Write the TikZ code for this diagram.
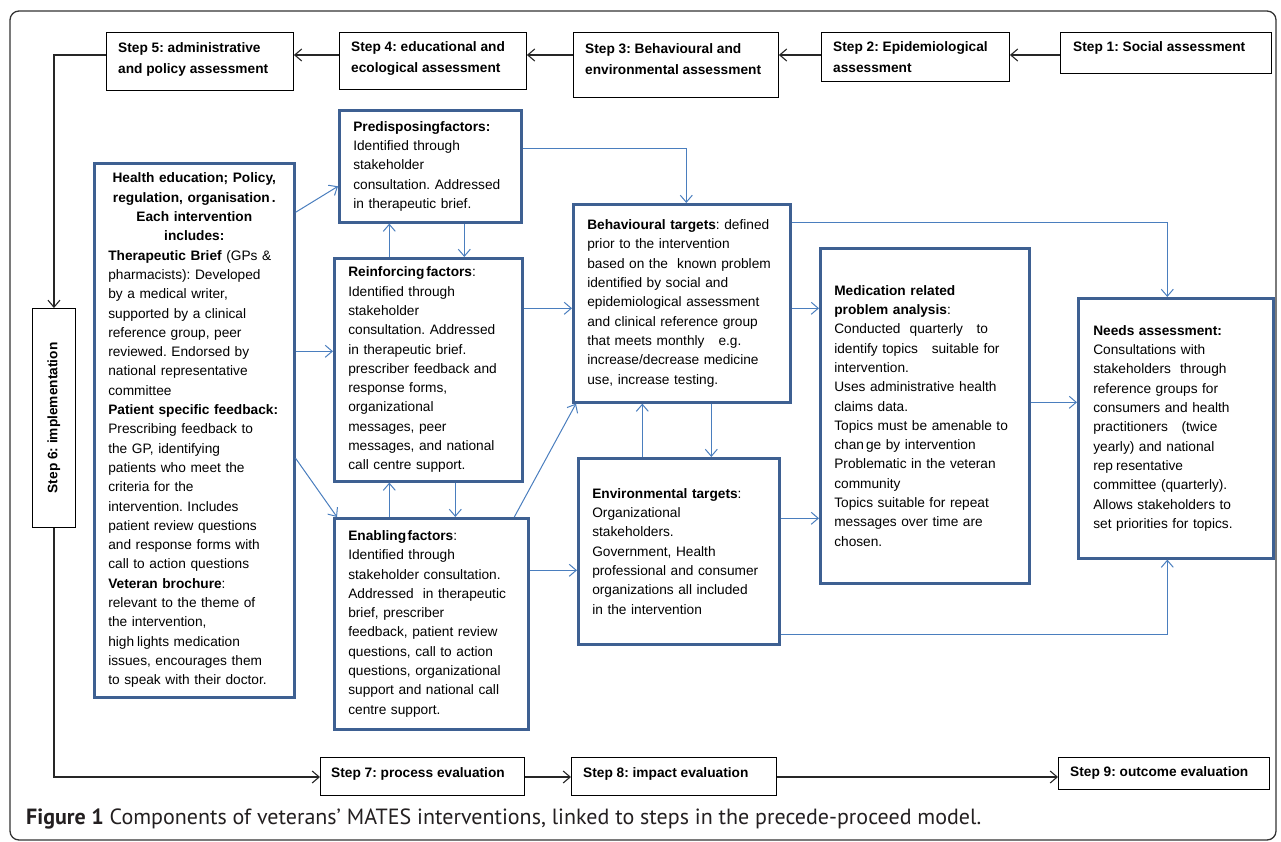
\documentclass[tikz,border=0pt]{standalone}
\usepackage{fontspec}
\setmainfont{Liberation Sans}
\newfontfamily\capfont{PT Sans}
\usetikzlibrary{arrows.meta,calc}
\setlength{\parindent}{0pt}
\definecolor{boxblue}{RGB}{62,96,146}
\definecolor{lineblue}{RGB}{74,126,190}
\definecolor{capgray}{RGB}{35,31,32}
\newcommand{\bodyfont}{\fontsize{13.7pt}{19.3pt}\selectfont}
\newcommand{\stepfont}{\fontsize{13.7pt}{21pt}\selectfont\bfseries}
\tikzset{
  stepbox/.style={draw=black, line width=0.9pt, anchor=north west, inner sep=0pt},
  steptext/.style={anchor=west, align=left, inner sep=0pt, font=\stepfont},
  bluebox/.style={draw=boxblue, line width=2.6pt, anchor=north west, inner xsep=14pt, inner ysep=0pt, font=\bodyfont},
  blk/.style={draw=black!85, line width=1.1pt, -{Straight Barb[length=7pt,width=12pt]}},
  bl/.style={draw=lineblue, line width=1pt, -{Straight Barb[length=7pt,width=12pt]}},
  frame/.style={draw=black!80, line width=1.3pt, rounded corners=9pt}
}
\begin{document}
\frenchspacing
\begin{tikzpicture}[x=1pt,y=-1pt]
\useasboundingbox (0,0) rectangle (1281,842);
\draw[frame] (10,11) rectangle (1276,840);

% step boxes
\node[stepbox, minimum width=187pt, minimum height=58pt] (s5) at (106,32) {};
\node[stepbox, minimum width=187pt, minimum height=57pt] (s4) at (339,32) {};
\node[stepbox, minimum width=205pt, minimum height=65pt] (s3) at (573,32) {};
\node[stepbox, minimum width=188pt, minimum height=49pt] (s2) at (821,32) {};
\node[stepbox, minimum width=211pt, minimum height=41pt] (s1) at (1060,32) {};
\node[stepbox, minimum width=43pt, minimum height=219pt] (s6) at (32,308) {};
\node[stepbox, minimum width=204pt, minimum height=38pt] (s7) at (320,757) {};
\node[stepbox, minimum width=205pt, minimum height=38pt] (s8) at (571,757) {};
\node[stepbox, minimum width=211pt, minimum height=32pt] (s9) at (1058,757) {};

\node[steptext] (s5l) at (118,59) {Step 5: administrative\\and policy assessment};
\node[steptext] (s4l) at (351,58) {Step 4: educational and\\ecological assessment};
\node[steptext] (s3l) at (585,59) {Step 3: Behavioural and\\environmental assessment};
\node[steptext] (s2l) at (833,57) {Step 2: Epidemiological\\assessment};
\node[steptext] (s1l) at (1073,48) {Step 1: Social assessment};
\node[font=\stepfont, rotate=90, inner sep=0pt] (s6l) at (s6.center) {Step 6: implementation};
\node[steptext] (s7l) at (331,774) {Step 7: process evaluation};
\node[steptext] (s8l) at (583,774) {Step 8: impact evaluation};
\node[steptext] (s9l) at (1070,773) {Step 9: outcome evaluation};

% blue boxes
\node[bluebox, minimum width=200pt, minimum height=534pt, text width=172pt] (L) at (93,162) {%
{\centering\bfseries Health education; Policy,\\ regulation, organisation\kern2pt.\\ Each intervention\\ includes:\par}%
\raggedright\textbf{Therapeutic Brief} (GPs \&\\
pharmacists): Developed\\
by a medical writer,\\
supported by a clinical\\
reference group, peer\\
reviewed. Endorsed by\\
national representative\\
committee\\
\textbf{Patient specific feedback:}\\
Prescribing feedback to\\
the GP, identifying\\
patients who meet the\\
criteria for the\\
intervention. Includes\\
patient review questions\\
and response forms with\\
call to action questions\\
\textbf{Veteran brochure}:\\
relevant to the theme of\\
the intervention,\\
high\kern3pt lights medication\\
issues, encourages them\\
to speak with their doctor.\par};

\node[bluebox, align=left, minimum width=182pt, minimum height=112pt, text width=154pt] (P) at (338,109) {%
\textbf{Predisposingfactors:}\\
Identified through\\
stakeholder\\
consultation. Addressed\\
in therapeutic brief.};

\node[bluebox, align=left, minimum width=188pt, minimum height=223pt, text width=160pt] (R) at (333,257) {%
\textbf{Reinforcing\kern2pt factors}:\\
Identified through\\
stakeholder\\
consultation. Addressed\\
in therapeutic brief.\\
prescriber feedback and\\
response forms,\\
organizational\\
messages, peer\\
messages, and national\\
call centre support.};

\node[bluebox, align=left, minimum width=194pt, minimum height=211pt, text width=166pt] (E) at (333,517) {%
\textbf{Enabling\kern1.5pt factors}:\\
Identified through\\
stakeholder consultation.\\
Addressed~ in therapeutic\\
brief, prescriber\\
feedback, patient review\\
questions, call to action\\
questions, organizational\\
support and national call\\
centre support.};

\node[bluebox, align=left, minimum width=217pt, minimum height=198pt, text width=189pt] (B) at (572,203) {%
\textbf{Behavioural targets}: defined\\
prior to the intervention\\
based on the~ known problem\\
identified by social and\\
epidemiological assessment\\
and clinical reference group\\
that meets monthly\hspace{14pt}e.g.\\
increase/decrease medicine\\
use, increase testing.};

\node[bluebox, align=left, minimum width=201pt, minimum height=186pt, text width=173pt] (V) at (577,457) {%
\textbf{Environmental targets}:\\
Organizational\\
stakeholders.\\
Government, Health\\
professional and consumer\\
organizations all included\\
in the intervention};

\node[bluebox, align=left, minimum width=209pt, minimum height=335pt, text width=181pt] (M) at (819,247) {%
\textbf{Medication related}\\
\textbf{problem analysis}:\\
Conducted~ quarterly~~ to\\
identify topics~~ suitable for\\
intervention.\\
Uses administrative health\\
claims data.\\
Topics must be amenable to\\
chan\kern2pt ge by intervention\\
Problematic in the veteran\\
community\\
Topics suitable for repeat\\
messages over time are\\
chosen.};

\node[bluebox, align=left, inner xsep=15pt, minimum width=195pt, minimum height=260pt, text width=165pt] (N) at (1077,297) {%
\textbf{Needs assessment:}\\
Consultations with\\
stakeholders~ through\\
reference groups for\\
consumers and health\\
practitioners~~ (twice\\
yearly) and national\\
rep\kern3pt resentative\\
committee (quarterly).\\
Allows stakeholders to\\
set priorities for topics.};

% black connectors
\coordinate (row) at (0,55);
\coordinate (row2) at (0,777);
\draw[blk] (s1.west |- row) -- (s2.east |- row);
\draw[blk] (s2.west |- row) -- (s3.east |- row);
\draw[blk] (s3.west |- row) -- (s4.east |- row);
\draw[blk] (s4.west |- row) -- (s5.east |- row);
\draw[blk] (s5.west |- row) -| (s6.north);
\draw[blk] (s6.south) |- (s7.west |- row2);
\draw[blk] (s7.east |- row2) -- (s8.west |- row2);
\draw[blk] (s8.east |- row2) -- (s9.west |- row2);

% blue connectors
\draw[bl] ([yshift=218pt]L.east) -- ([yshift=-20pt]P.west);
\coordinate (rin) at ([yshift=18.5pt]R.west);
\draw[bl] (L.east |- rin) -- (rin);
\draw[bl] ([yshift=-28pt]L.east) -- ([xshift=4pt]E.north west);
\draw[bl] ([xshift=-39pt]R.north) -- ([xshift=-39pt]R.north |- P.south);
\draw[bl] ([xshift=36pt]R.north |- P.south) -- ([xshift=36pt]R.north);
\draw[bl] ([xshift=-42pt]E.north) -- ([xshift=-42pt]E.north |- R.south);
\draw[bl] ([xshift=24pt]E.north |- R.south) -- ([xshift=24pt]E.north);
\coordinate (bin) at ([yshift=-5pt]B.west);
\draw[bl] (R.east |- bin) -- (bin);
\draw[bl] ([xshift=83pt]E.north) -- ([xshift=4pt]B.south west);
\coordinate (vin) at ([yshift=-19pt]V.west);
\draw[bl] (E.east |- vin) -- (vin);
\draw[bl] ([yshift=18pt]P.east) -| ([xshift=4.5pt]B.north);
\draw[bl] ([xshift=-36.5pt]V.north) -- ([xshift=-36.5pt]V.north |- B.south);
\draw[bl] ([xshift=32.5pt]V.north |- B.south) -- ([xshift=32.5pt]V.north);
\coordinate (min1) at ([yshift=107.5pt]M.west);
\draw[bl] (B.east |- min1) -- (min1);
\coordinate (min2) at ([yshift=-102.5pt]M.west);
\draw[bl] (V.east |- min2) -- (min2);
\coordinate (nin) at ([yshift=26pt]N.west);
\draw[bl] (M.east |- nin) -- (nin);
\draw[bl] ([yshift=81pt]B.east) -| ([xshift=-8.5pt]N.north);
\draw[bl] ([yshift=-83pt]V.east) -| ([xshift=-8.5pt]N.south);

% caption
\node[anchor=west, inner sep=0pt, text=capgray] (cap) at (26,819) {\resizebox{955pt}{!}{\capfont\fontsize{17.5pt}{20pt}\selectfont\textbf{Figure 1} Components of veterans’ MATES interventions, linked to steps in the precede-proceed model.}};
\end{tikzpicture}
\end{document}
